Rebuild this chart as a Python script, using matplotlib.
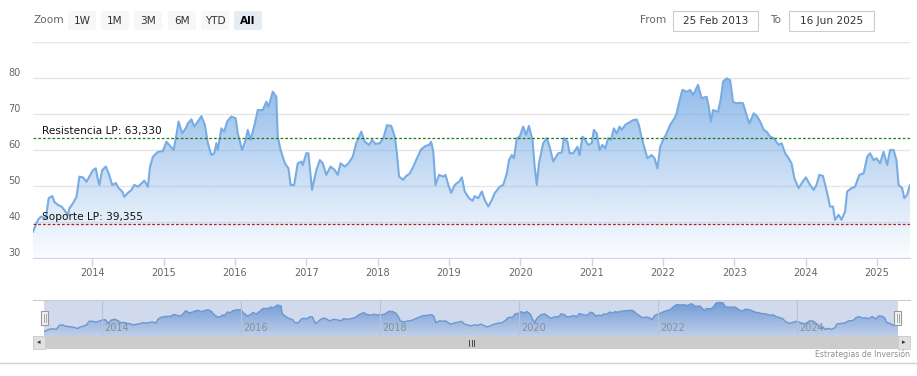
import numpy as np
import matplotlib
matplotlib.use("Agg")
import matplotlib.pyplot as plt
from matplotlib.patches import Rectangle, FancyBboxPatch
import matplotlib.transforms as mtransforms

# ---- data ----
years = [
    2013.17, 2013.24, 2013.28, 2013.35, 2013.39, 2013.44, 2013.47, 2013.52, 2013.57, 2013.61,
    2013.66, 2013.68, 2013.73, 2013.78, 2013.82, 2013.87, 2013.92, 2013.96, 2014.01, 2014.05,
    2014.08, 2014.10, 2014.14, 2014.19, 2014.23, 2014.28, 2014.33, 2014.37, 2014.42, 2014.45,
    2014.50, 2014.55, 2014.59, 2014.64, 2014.69, 2014.73, 2014.78, 2014.81, 2014.85, 2014.92,
    2014.99, 2015.04, 2015.08, 2015.14, 2015.18, 2015.21, 2015.26, 2015.31, 2015.34, 2015.39,
    2015.43, 2015.48, 2015.53,
    2015.58, 2015.62, 2015.67, 2015.71, 2015.74, 2015.76, 2015.81, 2015.85, 2015.89, 2015.95,
    2016.01, 2016.04, 2016.10, 2016.15, 2016.18, 2016.22, 2016.28, 2016.32, 2016.39, 2016.44,
    2016.47, 2016.53, 2016.58, 2016.60, 2016.64, 2016.70, 2016.75, 2016.78, 2016.83, 2016.88,
    2016.93, 2016.95, 2017.00, 2017.03, 2017.08, 2017.14, 2017.19, 2017.23, 2017.28, 2017.34,
    2017.40, 2017.44, 2017.48, 2017.54, 2017.59, 2017.65, 2017.70, 2017.77, 2017.82, 2017.88,
    2017.92, 2017.97, 2018.03, 2018.08,
    2018.13, 2018.19, 2018.24, 2018.27, 2018.30, 2018.36, 2018.39, 2018.45, 2018.50, 2018.55,
    2018.61, 2018.67, 2018.72, 2018.75, 2018.78, 2018.81, 2018.86, 2018.92, 2018.95, 2018.99,
    2019.03, 2019.08, 2019.14, 2019.18, 2019.22, 2019.28, 2019.33, 2019.36, 2019.41, 2019.46,
    2019.50, 2019.55, 2019.60, 2019.64, 2019.71, 2019.76, 2019.81, 2019.84, 2019.88, 2019.91,
    2019.95, 2019.99, 2020.04, 2020.08, 2020.12, 2020.17, 2020.20, 2020.23, 2020.26, 2020.32,
    2020.37, 2020.41, 2020.46,
    2020.53, 2020.58, 2020.61, 2020.66, 2020.69, 2020.74, 2020.80, 2020.83, 2020.87, 2020.91,
    2020.95, 2021.00, 2021.03, 2021.07, 2021.11, 2021.15, 2021.19, 2021.23, 2021.27, 2021.31,
    2021.35, 2021.39, 2021.42, 2021.47, 2021.52, 2021.58, 2021.63, 2021.66, 2021.70, 2021.74,
    2021.78, 2021.84, 2021.88, 2021.92, 2021.96, 2022.00, 2022.04, 2022.10, 2022.16, 2022.19,
    2022.22, 2022.27, 2022.33, 2022.38, 2022.42, 2022.49, 2022.54, 2022.61, 2022.64, 2022.67,
    2022.70, 2022.77, 2022.81, 2022.84, 2022.89, 2022.94,
    2022.98, 2023.02, 2023.08, 2023.12, 2023.17, 2023.21, 2023.27, 2023.32, 2023.36, 2023.41,
    2023.45, 2023.50, 2023.55, 2023.62, 2023.66, 2023.71, 2023.76, 2023.80, 2023.84, 2023.90,
    2023.94, 2024.00, 2024.06, 2024.11, 2024.15, 2024.19, 2024.24, 2024.29, 2024.34, 2024.38,
    2024.41, 2024.46, 2024.50, 2024.55, 2024.58, 2024.64, 2024.69, 2024.75, 2024.81, 2024.86,
    2024.90, 2024.95, 2024.99, 2025.04, 2025.09, 2025.14, 2025.18, 2025.23, 2025.27, 2025.30,
    2025.35, 2025.38, 2025.42, 2025.46,
]
close = [
    37.3, 40.6, 41.5, 41.0, 46.6, 47.2, 45.6, 44.7, 44.3, 43.3,
    41.9, 43.8, 45.2, 47.0, 52.6, 52.4, 51.2, 52.6, 54.4, 54.9,
    51.7, 50.3, 54.4, 55.4, 53.5, 50.3, 50.8, 49.4, 48.5, 47.0,
    48.1, 48.9, 50.3, 49.8, 50.7, 51.5, 49.8, 55.4, 58.1, 59.5,
    59.7, 62.3, 61.4, 60.0, 64.2, 67.9, 64.6, 66.0, 67.4, 68.5,
    66.5, 67.9, 69.4,
    66.9, 61.9, 58.6, 59.1, 61.9, 60.0, 66.0, 65.1, 67.9, 69.3,
    68.8, 64.6, 60.0, 62.8, 65.6, 62.8, 67.4, 71.1, 71.1, 73.4,
    72.0, 76.2, 74.8, 63.7, 60.0, 56.3, 54.9, 50.3, 50.3, 56.3,
    56.8, 55.8, 59.1, 59.1, 48.9, 54.4, 57.2, 56.3, 53.1, 55.4,
    54.4, 53.1, 56.3, 55.4, 56.3, 58.1, 61.9, 65.1, 62.3, 61.4,
    62.8, 61.7, 61.9, 63.3,
    66.9, 66.7, 63.7, 59.1, 52.6, 51.7, 52.6, 53.5, 55.4, 57.7,
    60.2, 61.1, 61.4, 62.3, 59.5, 50.3, 53.1, 52.6, 53.1, 50.3,
    48.1, 50.3, 51.2, 52.4, 48.5, 46.6, 45.9, 47.2, 46.6, 48.5,
    46.1, 44.3, 46.1, 48.0, 49.8, 50.3, 53.5, 57.2, 58.6, 57.7,
    63.3, 63.7, 66.5, 64.2, 66.7, 62.8, 55.4, 50.3, 56.3, 61.9,
    63.3, 60.9, 56.8,
    59.1, 59.3, 63.3, 62.3, 59.1, 59.1, 60.9, 58.6, 63.7, 62.8,
    61.4, 61.9, 65.6, 64.6, 60.0, 61.4, 60.5, 63.3, 62.8, 66.0,
    64.6, 66.5, 65.6, 67.0, 67.6, 68.3, 68.5, 67.0, 63.3, 60.5,
    57.7, 58.6, 57.7, 54.9, 60.9, 62.8, 64.2, 67.0, 68.8, 70.2,
    72.9, 76.7, 76.2, 76.7, 75.3, 78.1, 74.4, 74.8, 72.0, 67.9,
    71.1, 70.6, 74.4, 79.0, 79.9, 79.4,
    73.4, 73.0, 73.1, 73.0, 69.7, 67.4, 70.2, 69.3, 67.9, 65.6,
    65.1, 63.7, 63.3, 61.4, 61.9, 59.1, 57.7, 56.3, 52.1, 49.4,
    50.7, 52.4, 50.3, 48.9, 50.3, 53.1, 52.8, 48.9, 44.3, 44.3,
    40.6, 42.0, 40.6, 42.9, 48.5, 49.4, 49.8, 53.1, 53.5, 58.1,
    59.1, 57.2, 57.7, 56.3, 59.5, 55.8, 60.0, 60.0, 57.2, 50.3,
    49.4, 46.6, 47.6, 50.3,
]

resistance = 63.330
support = 39.355
resistance_label = "Resistencia LP: 63,330"
support_label = "Soporte LP: 39,355"

y_ticks = [30, 40, 50, 60, 70, 80, 90]
y_labels = ["30", "40", "50", "60", "70", "80", ""]
x_ticks = list(range(2014, 2026))
nav_ticks = [2014, 2016, 2018, 2020, 2022, 2024]

zoom_buttons = ["1W", "1M", "3M", "6M", "YTD", "All"]
date_from = "25 Feb 2013"
date_to = "16 Jun 2025"
credit = "Estrategias de Inversión"

# ---- layout helpers (pixel boxes, top-left origin) ----
W, H = 917, 376
fig = plt.figure(figsize=(W / 100, H / 100), dpi=100)


def box(x0, y0, x1, y1):
    return [x0 / W, 1 - y1 / H, (x1 - x0) / W, (y1 - y0) / H]


def gradient_area(axis, xs, ys, base, color, a_top, a_bot, lo, hi):
    rgba = np.zeros((256, 1, 4))
    rgba[..., :3] = matplotlib.colors.to_rgb(color)
    rgba[:, 0, 3] = np.linspace(a_top, a_bot, 256)
    img = axis.imshow(rgba, extent=[xs[0], xs[-1], lo, hi], aspect="auto",
                      origin="upper", zorder=1, interpolation="bilinear")
    poly = axis.fill_between(xs, ys, base, color="none", lw=0)
    img.set_clip_path(poly.get_paths()[0], transform=axis.transData)


# ---- main chart ----
ax = fig.add_axes(box(33, 42, 910, 258))
gradient_area(ax, years, close, 30, "#6fa6e4", 0.92, 0.03, 30, 90)
ax.plot(years, close, color="#78ace3", lw=1.5, zorder=3)
ax.set_xlim(years[0], years[-1])
ax.set_ylim(30, 90)

ax.set_axisbelow(True)
ax.set_yticks(y_ticks)
ax.set_yticklabels(y_labels, va="bottom")
ax.yaxis.grid(True, color="#e6e6e6", lw=1)
ax.tick_params(axis="y", length=0, pad=9, labelsize=7, labelcolor="#666666")
ax.set_xticks(x_ticks)
ax.set_xticklabels([str(y) for y in x_ticks])
ax.tick_params(axis="x", length=6, width=1, color="#ccd6eb", pad=1.5,
               labelsize=7, labelcolor="#666666")
for s in ["top", "right", "left"]:
    ax.spines[s].set_visible(False)
ax.spines["bottom"].set_color("#ccd6eb")

ax.axhline(resistance, color="#1e7b1e", lw=0.9, ls=(0, (2.2, 1.6)), zorder=4)
ax.axhline(support, color="#b0202a", lw=0.9, ls=(0, (2.2, 1.6)), zorder=4)
lbl_tr = mtransforms.blended_transform_factory(ax.transAxes, ax.transData)
off = mtransforms.offset_copy(lbl_tr, fig=fig, x=0, y=1.5, units="points")
ax.text(0.010, resistance, resistance_label, transform=off, fontsize=7.6,
        color="#111111", va="bottom", zorder=5)
ax.text(0.010, support, support_label, transform=off, fontsize=7.6,
        color="#111111", va="bottom", zorder=5)

# ---- navigator ----
nav = fig.add_axes(box(44, 300, 898, 336))
gradient_area(nav, years, close, 31, "#5f96db", 0.9, 0.15, 31, 83.5)
nav.plot(years, close, color="#6d9fd9", lw=1.0, zorder=3)
nav.set_xlim(years[0], years[-1])
nav.set_ylim(31, 83.5)
nav.axvspan(years[0], years[-1], color=(102 / 255, 133 / 255, 194 / 255),
            alpha=0.3, lw=0, zorder=4)
for t in nav_ticks:
    nav.axvline(t, color="#b9c2d6", lw=0.8, zorder=5)
    nav.annotate(str(t), (t, 0), xycoords=("data", "axes fraction"),
                 xytext=(2, 2), textcoords="offset points", fontsize=7,
                 color="#8a8f99", va="bottom", ha="left", zorder=6)
nav.axis("off")

# ---- UI overlay (buttons, inputs, scrollbar) ----
ui = fig.add_axes([0, 0, 1, 1], zorder=10)
ui.set_xlim(0, W)
ui.set_ylim(H, 0)
ui.axis("off")
ui.patch.set_alpha(0)

ui.text(33, 20, "Zoom", fontsize=7.6, color="#666666", va="center", ha="left")
btn_x = [68, 101, 134, 168, 201, 234]
for name, bx in zip(zoom_buttons, btn_x):
    sel = name == "All"
    ui.add_patch(FancyBboxPatch((bx, 11), 28, 19, boxstyle="round,pad=0,rounding_size=2",
                                fc="#e6ebf5" if sel else "#f7f7f7", ec="none"))
    ui.text(bx + 14, 20.5, name, fontsize=7.6, color="#000000" if sel else "#333333",
            weight="bold" if sel else "normal", ha="center", va="center")

ui.text(640, 20, "From", fontsize=7.6, color="#666666", va="center", ha="left")
ui.add_patch(Rectangle((673, 11), 85, 20, fc="white", ec="#cccccc", lw=0.8))
ui.text(715.5, 21, date_from, fontsize=7.6, color="#333333", va="center", ha="center")
ui.text(770, 20, "To", fontsize=7.6, color="#666666", va="center", ha="left")
ui.add_patch(Rectangle((789, 11), 85, 20, fc="white", ec="#cccccc", lw=0.8))
ui.text(831.5, 21, date_to, fontsize=7.6, color="#333333", va="center", ha="center")

# navigator outline and handles
ui.plot([33, 910], [300, 300], color="#cccccc", lw=0.8)
for hx in (44.5, 897.5):
    ui.add_patch(Rectangle((hx - 3.5, 311), 7, 14, fc="#f2f2f2", ec="#999999", lw=0.8))
    ui.plot([hx - 1, hx - 1], [314, 322], color="#999999", lw=0.6)
    ui.plot([hx + 1, hx + 1], [314, 322], color="#999999", lw=0.6)

# scrollbar
ui.add_patch(Rectangle((33, 336), 877, 13, fc="#cccccc", ec="none"))
ui.add_patch(Rectangle((33, 336), 12, 13, fc="#e0e0e0", ec="#cccccc", lw=0.6))
ui.add_patch(Rectangle((898, 336), 12, 13, fc="#e0e0e0", ec="#cccccc", lw=0.6))
ui.text(39, 342.5, "◂", fontsize=5, color="#333333", ha="center", va="center")
ui.text(904, 342.5, "▸", fontsize=5, color="#333333", ha="center", va="center")
for gx in (469, 471.5, 474):
    ui.plot([gx, gx], [339.5, 345.5], color="#333333", lw=0.6)

ui.plot([0, W], [362.5, 362.5], color="#d0d0d0", lw=1)
ui.text(910, 354, credit, fontsize=5.6, color="#909090", ha="right", va="center")

fig.savefig("out.png", dpi=100)
